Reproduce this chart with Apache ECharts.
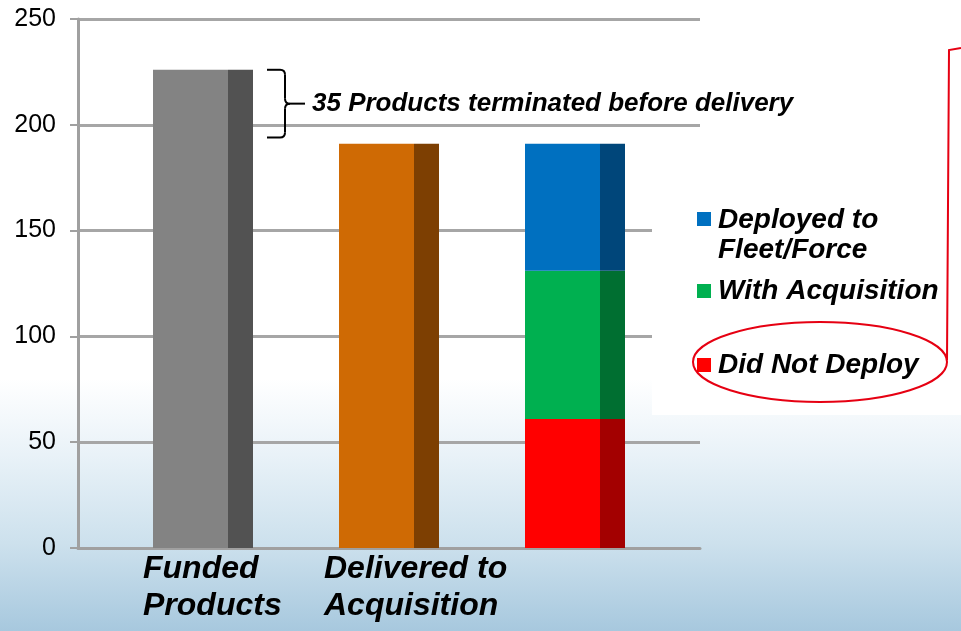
<!DOCTYPE html>
<html>
<head>
<meta charset="utf-8">
<title>Funded products</title>
<script src="https://cdn.jsdelivr.net/npm/echarts@6/dist/echarts.min.js"></script>
<style>
  html, body { margin: 0; padding: 0; background: #fff; }
  #chart { width: 961px; height: 631px; }
</style>
</head>
<body>
<div id="chart"></div>
<script>
const categories = ['Funded\nProducts', 'Delivered to\nAcquisition', ''];
const totals = [226, 191, '-'];
const didNotDeploy = ['-', '-', 61];
const withAcquisition = ['-', '-', 70];
const deployed = ['-', '-', 60];
const yMin = 0;
const yMax = 250;
const yStep = 50;
const braceRange = [226, 194];
const braceNote = '35 Products terminated before delivery';

const FONT = '"Liberation Sans", Arial, sans-serif';
const BOLD_ITALIC = { fontFamily: FONT, fontWeight: 'bold', fontStyle: 'italic', color: '#000' };

// front face / shaded side of each pseudo-3D bar
const totalColors = [['#838383', '#525252'], ['#cf6a04', '#7d3f02']];
const partColors = {
  'Did Not Deploy': ['#ff0000', '#a30000'],
  'With Acquisition': ['#00b050', '#006f31'],
  'Deployed to\nFleet/Force': ['#0070c0', '#00467a']
};

function barSeries(name, data, face, stack, width, colors) {
  return {
    name,
    type: 'bar',
    xAxisIndex: 1,
    yAxisIndex: 1,
    stack,
    barWidth: width,
    barGap: 0,
    data: data.map((v, i) => (Array.isArray(colors) && v !== '-')
      ? { value: v, itemStyle: { color: colors[i][face] } }
      : v),
    itemStyle: Array.isArray(colors) ? {} : { color: colors },
    emphasis: { disabled: true }
  };
}

function buildSeries() {
  const parts = [
    ['Did Not Deploy', didNotDeploy],
    ['With Acquisition', withAcquisition],
    ['Deployed to\nFleet/Force', deployed]
  ];
  const front = [barSeries('Total', totals, 0, 'front', 75, totalColors)]
    .concat(parts.map(([n, d]) => barSeries(n, d, 0, 'front', 75, partColors[n][0])));
  const side = [barSeries('side-Total', totals, 1, 'side', 25, totalColors)]
    .concat(parts.map(([n, d]) => barSeries('side-' + n, d, 1, 'side', 25, partColors[n][1])));
  return front.concat(side);
}

function legendBlock(name, top, opts) {
  return Object.assign({
    data: [name],
    orient: 'vertical',
    left: 697,
    top,
    padding: 0,
    itemWidth: 14,
    itemHeight: 14,
    icon: 'rect',
    selectedMode: false,
    textStyle: Object.assign({ fontSize: 28, lineHeight: 30, padding: [0, 0, 0, 2] }, BOLD_ITALIC)
  }, opts || {});
}

function categoryLabel(value, index) {
  if (!value) return '';
  return value.split('\n').map(line => `{c${index}|${line}}`).join('\n');
}

const chart = echarts.init(document.getElementById('chart'));

chart.setOption({
  animation: false,
  backgroundColor: {
    type: 'linear', x: 0, y: 0, x2: 0, y2: 1,
    colorStops: [
      { offset: 0, color: '#ffffff' },
      { offset: 0.6, color: '#ffffff' },
      { offset: 0.72, color: '#e9f2f8' },
      { offset: 0.86, color: '#cde1ed' },
      { offset: 1, color: '#a7c8de' }
    ]
  },
  grid: [
    { left: 78, top: 19, width: 622, height: 529 },
    { left: 110, top: 19, width: 558, height: 529 }
  ],
  xAxis: [
    {
      gridIndex: 0, type: 'value', min: 0, max: 1,
      axisLine: { lineStyle: { color: '#a0a0a0', width: 3 } },
      axisTick: { show: false }, axisLabel: { show: false }, splitLine: { show: false }
    },
    {
      gridIndex: 1, type: 'category', data: categories,
      axisLine: { show: false }, axisTick: { show: false },
      axisLabel: {
        interval: 0,
        margin: 3,
        formatter: categoryLabel,
        rich: {
          c0: Object.assign({ fontSize: 32, lineHeight: 37, align: 'left', width: 120 }, BOLD_ITALIC),
          c1: Object.assign({ fontSize: 32, lineHeight: 37, align: 'left', width: 130 }, BOLD_ITALIC)
        }
      }
    }
  ],
  yAxis: [
    {
      gridIndex: 0, type: 'value', min: yMin, max: yMax, interval: yStep,
      axisLine: { show: true, lineStyle: { color: '#a0a0a0', width: 3 } },
      axisTick: { show: true, length: 8, lineStyle: { color: '#a0a0a0', width: 2 } },
      axisLabel: { margin: 22, fontSize: 25, color: '#000', fontFamily: FONT },
      splitLine: { lineStyle: { color: '#a6a6a6', width: 3 } }
    },
    { gridIndex: 1, type: 'value', min: yMin, max: yMax, show: false }
  ],
  legend: [
    legendBlock('Deployed to\nFleet/Force', 205, {
      itemHeight: 46,
      icon: 'path://M0,0H14V14H0Z M0,46L0.1,46'
    }),
    legendBlock('With Acquisition', 276),
    legendBlock('Did Not Deploy', 350)
  ],
  series: buildSeries()
});

function drawAnnotations() {
  const barRight = chart.convertToPixel({ xAxisIndex: 1 }, 0) + 50;
  const yTop = chart.convertToPixel({ yAxisIndex: 1 }, braceRange[0]);
  const yBot = chart.convertToPixel({ yAxisIndex: 1 }, braceRange[1]);
  const x0 = barRight + 14;
  const xs = x0 + 18;
  const yMid = (yTop + yBot) / 2;
  const r = 5;
  const ink = { stroke: '#000', lineWidth: 2, fill: 'none' };
  const seg = (x1, y1, x2, y2) => ({ type: 'line', shape: { x1, y1, x2, y2 }, style: ink });
  const curve = (x1, y1, cx, cy, x2, y2) => ({
    type: 'bezierCurve', shape: { x1, y1, cpx1: cx, cpy1: cy, x2, y2 }, style: ink
  });

  const brace = {
    type: 'group', z: 5,
    children: [
      seg(x0, yTop, xs - r, yTop),
      curve(xs - r, yTop, xs, yTop, xs, yTop + r),
      seg(xs, yTop + r, xs, yMid - r),
      curve(xs, yMid - r, xs, yMid, xs + r, yMid),
      seg(xs + r, yMid, xs + 20, yMid),
      curve(xs + r, yMid, xs, yMid, xs, yMid + r),
      seg(xs, yMid + r, xs, yBot - r),
      curve(xs, yBot - r, xs, yBot, xs - r, yBot),
      seg(xs - r, yBot, x0, yBot)
    ]
  };

  chart.setOption({
    graphic: [
      { type: 'rect', z: 1, shape: { x: 652, y: 195, width: 309, height: 220 }, style: { fill: '#ffffff' } },
      brace,
      {
        type: 'text', z: 5, x: xs + 27, y: yMid,
        style: {
          text: braceNote, fontSize: 26, verticalAlign: 'middle', fill: '#000',
          fontFamily: FONT, fontWeight: 'bold', fontStyle: 'italic'
        }
      },
      {
        type: 'ellipse', z: 5, shape: { cx: 820, cy: 362, rx: 127, ry: 40 },
        style: { fill: 'none', stroke: '#e60012', lineWidth: 2 }
      },
      {
        type: 'polyline', z: 5, shape: { points: [[947, 360], [949, 50], [961, 48]] },
        style: { fill: 'none', stroke: '#e60012', lineWidth: 2 }
      }
    ]
  });
}

drawAnnotations();
</script>
</body>
</html>
